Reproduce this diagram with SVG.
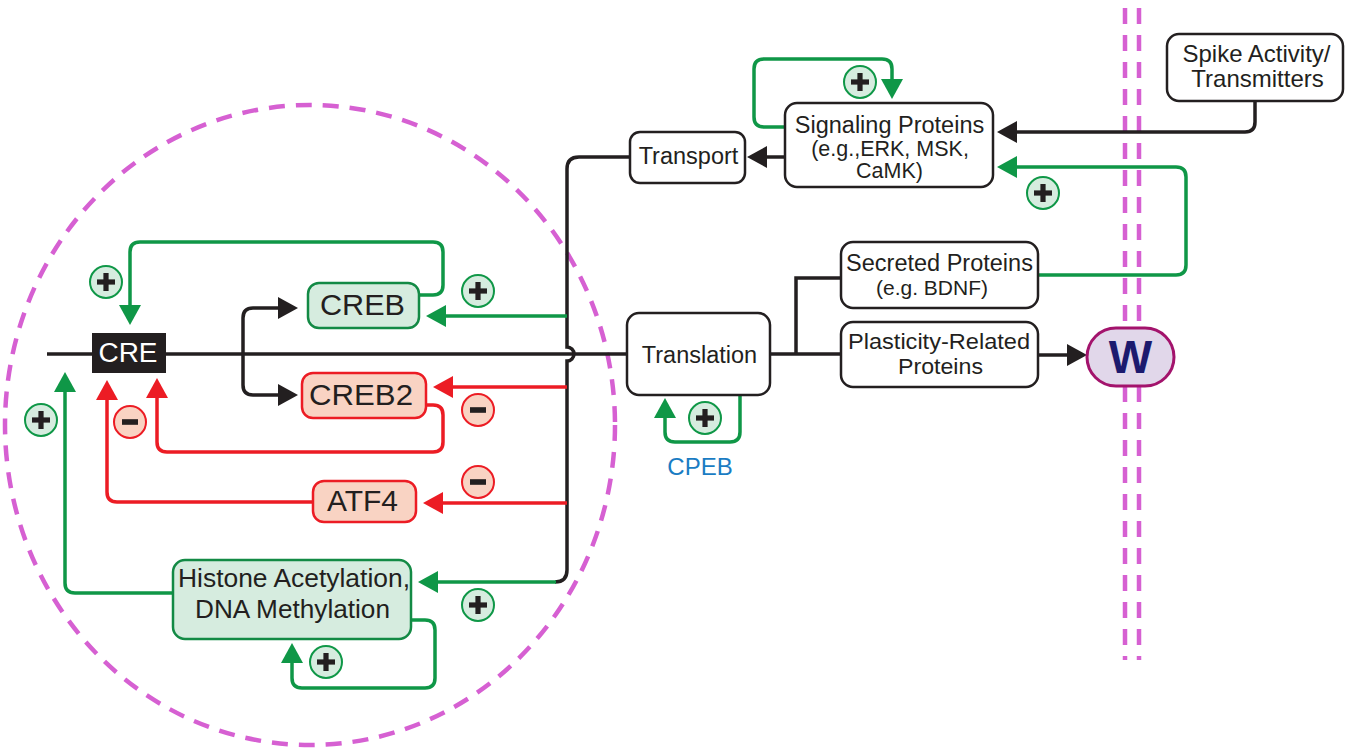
<svg xmlns="http://www.w3.org/2000/svg" width="1345" height="749" viewBox="0 0 1345 749">
<defs>
<style>
.t{font-family:"Liberation Sans",Arial,sans-serif;fill:#231f20;text-anchor:middle}
.box{fill:#fff;stroke:#231f20;stroke-width:2.5}
.gbox{fill:#d6ecdf;stroke:#138a45;stroke-width:2.5}
.rbox{fill:#f9d3c3;stroke:#ec1c24;stroke-width:2.5}
.k{fill:none;stroke:#231f20;stroke-width:3.5}
.g{fill:none;stroke:#0f9747;stroke-width:3.5}
.r{fill:none;stroke:#ec1c24;stroke-width:3.5}
.kA{marker-end:url(#ak)}
.gA{marker-end:url(#ag)}
.rA{marker-end:url(#ar)}
.pc{fill:#d6ecdf;stroke:#0f9747;stroke-width:2}
.mc{fill:#f9d3c3;stroke:#ec1c24;stroke-width:2}
.sym{fill:#231f20}
.dash{fill:none;stroke:#d660d2;stroke-width:4.5;stroke-dasharray:16 11}
</style>
<marker id="ak" viewBox="0 0 20 22" refX="10" refY="11" markerWidth="20" markerHeight="22" markerUnits="userSpaceOnUse" orient="auto"><path d="M0,0 L20,11 L0,22 z" fill="#231f20"/></marker>
<marker id="ag" viewBox="0 0 20 22" refX="10" refY="11" markerWidth="20" markerHeight="22" markerUnits="userSpaceOnUse" orient="auto"><path d="M0,0 L20,11 L0,22 z" fill="#0f9747"/></marker>
<marker id="ar" viewBox="0 0 20 22" refX="10" refY="11" markerWidth="20" markerHeight="22" markerUnits="userSpaceOnUse" orient="auto"><path d="M0,0 L20,11 L0,22 z" fill="#ec1c24"/></marker>
<g id="plus"><circle r="16" class="pc"/><rect x="-9" y="-2.6" width="18" height="5.2" class="sym"/><rect x="-2.6" y="-9" width="5.2" height="18" class="sym"/></g>
<g id="minus"><circle r="16" class="mc"/><rect x="-8" y="-2.8" width="16" height="5.6" class="sym"/></g>
</defs>
<rect width="1345" height="749" fill="#fff"/>

<g id="compartments">
<ellipse cx="310" cy="425" rx="305" ry="320" class="dash"/>
<line x1="1125" y1="8" x2="1125" y2="660" class="dash" stroke-dasharray="18 12"/>
<line x1="1139" y1="8" x2="1139" y2="660" class="dash" stroke-dasharray="18 12"/>
</g>

<g id="connectors">
<path class="k" d="M47 354 H627"/>
<path class="k" d="M630 157 H579 q-12 0 -12 12 V347 a7 7 0 0 1 0 14 V570 q0 12 -12 12"/>
<path class="k kA" d="M243 354 V318 q0 -10 10 -10 H288"/>
<path class="k kA" d="M243 354 V385 q0 10 10 10 H288"/>
<path class="g gA" d="M419 295 H433 q10 0 10 -10 V252 q0 -10 -10 -10 H140 q-10 0 -10 10 V315"/>
<path class="g gA" d="M567 316 H436"/>
<path class="r rA" d="M567 387 H443"/>
<path class="r rA" d="M426 405 H433 q10 0 10 10 V442 q0 10 -10 10 H167 q-10 0 -10 -10 V388"/>
<path class="r rA" d="M313 502 H117 q-10 0 -10 -10 V390"/>
<path class="r rA" d="M567 503 H433"/>
<path class="g gA" d="M173 593 H75 q-10 0 -10 -10 V382"/>
<path class="g gA" d="M556 582 H428"/>
<path class="g gA" d="M411 620 H425 q10 0 10 10 V678 q0 10 -10 10 H302 q-10 0 -10 -10 V653"/>
<path class="g gA" d="M740 395 V432 q0 10 -10 10 H675 q-10 0 -10 -10 V408"/>
<path class="k" d="M770 354 H841 M796 354 V278 H841"/>
<path class="k kA" d="M1038 355 H1077"/>
<path class="k kA" d="M785 157 H757"/>
<path class="k kA" d="M1255 101 V122 q0 10 -10 10 H1007"/>
<path class="g gA" d="M1038 275 H1176 q10 0 10 -10 V177 q0 -10 -10 -10 H1007"/>
<path class="g gA" d="M785 127 H764 q-10 0 -10 -10 V69 q0 -10 10 -10 H882 q10 0 10 10 V89"/>
</g>

<g id="badges">
<use href="#plus" x="106" y="282"/>
<use href="#plus" x="478" y="291"/>
<use href="#plus" x="41" y="420"/>
<use href="#plus" x="478" y="605"/>
<use href="#plus" x="326" y="662"/>
<use href="#plus" x="705" y="418"/>
<use href="#plus" x="860" y="82"/>
<use href="#plus" x="1043" y="193"/>
<use href="#minus" x="478" y="410"/>
<use href="#minus" x="130" y="422"/>
<use href="#minus" x="478" y="482"/>
</g>

<g id="CRE"><rect x="92" y="333" width="74" height="40" fill="#231f20"/><text class="t" x="128" y="362" font-size="27" textLength="59" lengthAdjust="spacingAndGlyphs" style="fill:#fff">CRE</text></g>
<g id="CREB"><rect x="308" y="283" width="111" height="45" rx="11" class="gbox"/><text class="t" x="362.5" y="315" font-size="29" textLength="85" lengthAdjust="spacingAndGlyphs">CREB</text></g>
<g id="CREB2"><rect x="302" y="373" width="124" height="45" rx="11" class="rbox"/><text class="t" x="361" y="405" font-size="29" textLength="104" lengthAdjust="spacingAndGlyphs">CREB2</text></g>
<g id="ATF4"><rect x="313" y="481" width="103" height="41" rx="11" class="rbox"/><text class="t" x="362.5" y="511" font-size="29" textLength="71" lengthAdjust="spacingAndGlyphs">ATF4</text></g>
<g id="Histone"><rect x="173" y="560" width="238" height="79" rx="12" class="gbox"/><text class="t" x="294" y="587" font-size="26" textLength="232" lengthAdjust="spacingAndGlyphs">Histone Acetylation,</text><text class="t" x="292.5" y="618" font-size="26" textLength="195" lengthAdjust="spacingAndGlyphs">DNA Methylation</text></g>
<g id="Transport"><rect x="630" y="132" width="115" height="51" rx="10" class="box"/><text class="t" x="688.5" y="164" font-size="23.5">Transport</text></g>
<g id="Translation"><rect x="627" y="313" width="143" height="82" rx="12" class="box"/><text class="t" x="699.5" y="363" font-size="23.5">Translation</text></g>
<g id="CPEB"><text class="t" x="700" y="475" font-size="24" style="fill:#1a7cc3">CPEB</text></g>
<g id="Signaling"><rect x="785" y="103" width="208" height="84" rx="12" class="box"/><text class="t" x="889.5" y="133" font-size="23.5">Signaling Proteins</text><text class="t" x="890" y="156" font-size="21.5">(e.g.,ERK, MSK,</text><text class="t" x="889.5" y="178" font-size="21.5">CaMK)</text></g>
<g id="Spike"><rect x="1167" y="34" width="176" height="67" rx="12" class="box"/><text class="t" x="1256.5" y="62" font-size="24">Spike Activity/</text><text class="t" x="1257.5" y="87" font-size="24">Transmitters</text></g>
<g id="Secreted"><rect x="841" y="242" width="197" height="66" rx="12" class="box"/><text class="t" x="939.5" y="271" font-size="23.5">Secreted Proteins</text><text class="t" x="932" y="295" font-size="21">(e.g. BDNF)</text></g>
<g id="Plasticity"><rect x="841" y="322" width="197" height="65" rx="12" class="box"/><text class="t" x="939" y="349" font-size="22" textLength="182" lengthAdjust="spacingAndGlyphs">Plasticity-Related</text><text class="t" x="940.5" y="374" font-size="22" textLength="85" lengthAdjust="spacingAndGlyphs">Proteins</text></g>
<g id="W"><rect x="1087" y="328" width="87" height="58" rx="29" fill="#e1d7ea" stroke="#a3136c" stroke-width="3"/><text class="t" x="1130.5" y="373" font-size="46" font-weight="bold" style="fill:#1c1a6e">W</text></g>
</svg>
